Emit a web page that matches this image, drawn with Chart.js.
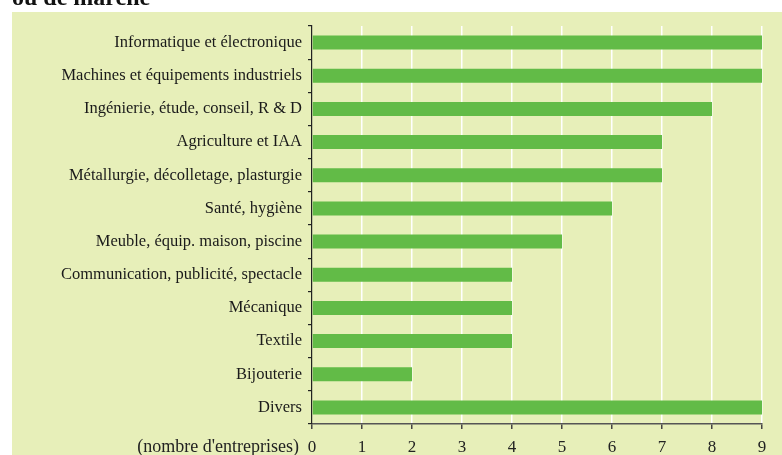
<!DOCTYPE html>
<html><head><meta charset="utf-8">
<script src="https://cdn.jsdelivr.net/npm/chart.js@4/dist/chart.umd.min.js"></script>
<style>html,body{margin:0;padding:0;background:#fff;}#wrap{width:782px;height:455px;}</style>
</head><body><div id="wrap"><canvas id="c" width="782" height="455"></canvas></div>
<script>
const categories = ["Informatique et électronique","Machines et équipements industriels","Ingénierie, étude, conseil, R & D","Agriculture et IAA","Métallurgie, décolletage, plasturgie","Santé, hygiène","Meuble, équip. maison, piscine","Communication, publicité, spectacle","Mécanique","Textile","Bijouterie","Divers"];
const values = [9,9,8,7,7,6,5,4,4,4,2,9];
const xTicks = [0,1,2,3,4,5,6,7,8,9];
const title = "ou de marché";
const unitLabel = "(nombre d'entreprises)";
const FONT = "'Liberation Serif', 'DejaVu Serif', serif";

const bgPlugin = {
  id: 'bg',
  beforeDraw(chart) {
    const ctx = chart.ctx;
    ctx.save();
    ctx.fillStyle = '#fff';
    ctx.fillRect(0,0,chart.width,chart.height);
    ctx.fillStyle = '#e7efb9';
    ctx.fillRect(12,12,chart.width-12,chart.height-12);
    ctx.fillStyle = '#111';
    ctx.font = "bold 24px " + FONT;
    ctx.textBaseline = 'alphabetic';
    ctx.textAlign = 'left';
    ctx.fillText(title, 12, 5);
    ctx.restore();
  },
  afterDraw(chart) {
    const ctx = chart.ctx;
    const xs = chart.scales.x;
    ctx.save();
    ctx.fillStyle = '#222';
    ctx.font = "18px " + FONT;
    ctx.textAlign = 'right';
    ctx.textBaseline = 'middle';
    ctx.fillText(unitLabel, xs.getPixelForValue(0) - 13, 447);
    ctx.restore();
  }
};

new Chart(document.getElementById('c'), {
  type: 'bar',
  data: { labels: categories, datasets: [{ data: values, backgroundColor: '#62bb47', borderWidth: 0, barPercentage: 1, categoryPercentage: 0.42 }] },
  options: {
    indexAxis: 'y', responsive: false, animation: false,
    layout: { padding: { top: 26, right: 20, left: 0, bottom: 0 } },
    plugins: { legend: { display: false }, tooltip: { enabled: false } },
    scales: {
      x: {
        min: 0, max: 9,
        afterBuildTicks(s) { s.ticks = xTicks.map(v => ({ value: v })); },
        afterFit(s) { s.height = 31; },
        grid: { color: c => c.index === 0 ? 'rgba(0,0,0,0)' : '#ffffff', lineWidth: 1.5, tickColor: '#444', tickLength: 5, drawTicks: true },
        border: { display: true, color: '#555', width: 1.5 },
        ticks: { color: '#222', font: { family: FONT, size: 17 }, padding: 8 }
      },
      y: {
        afterFit(s) { s.width = 312; },
        grid: { drawOnChartArea: false, drawTicks: true, tickLength: 4, color: '#222', lineWidth: 1.2 },
        border: { display: true, color: '#222', width: 1.2 },
        ticks: { color: '#1a1a1a', font: { family: FONT, size: 16.5 }, padding: 6 }
      }
    }
  },
  plugins: [bgPlugin]
});
</script></body></html>
